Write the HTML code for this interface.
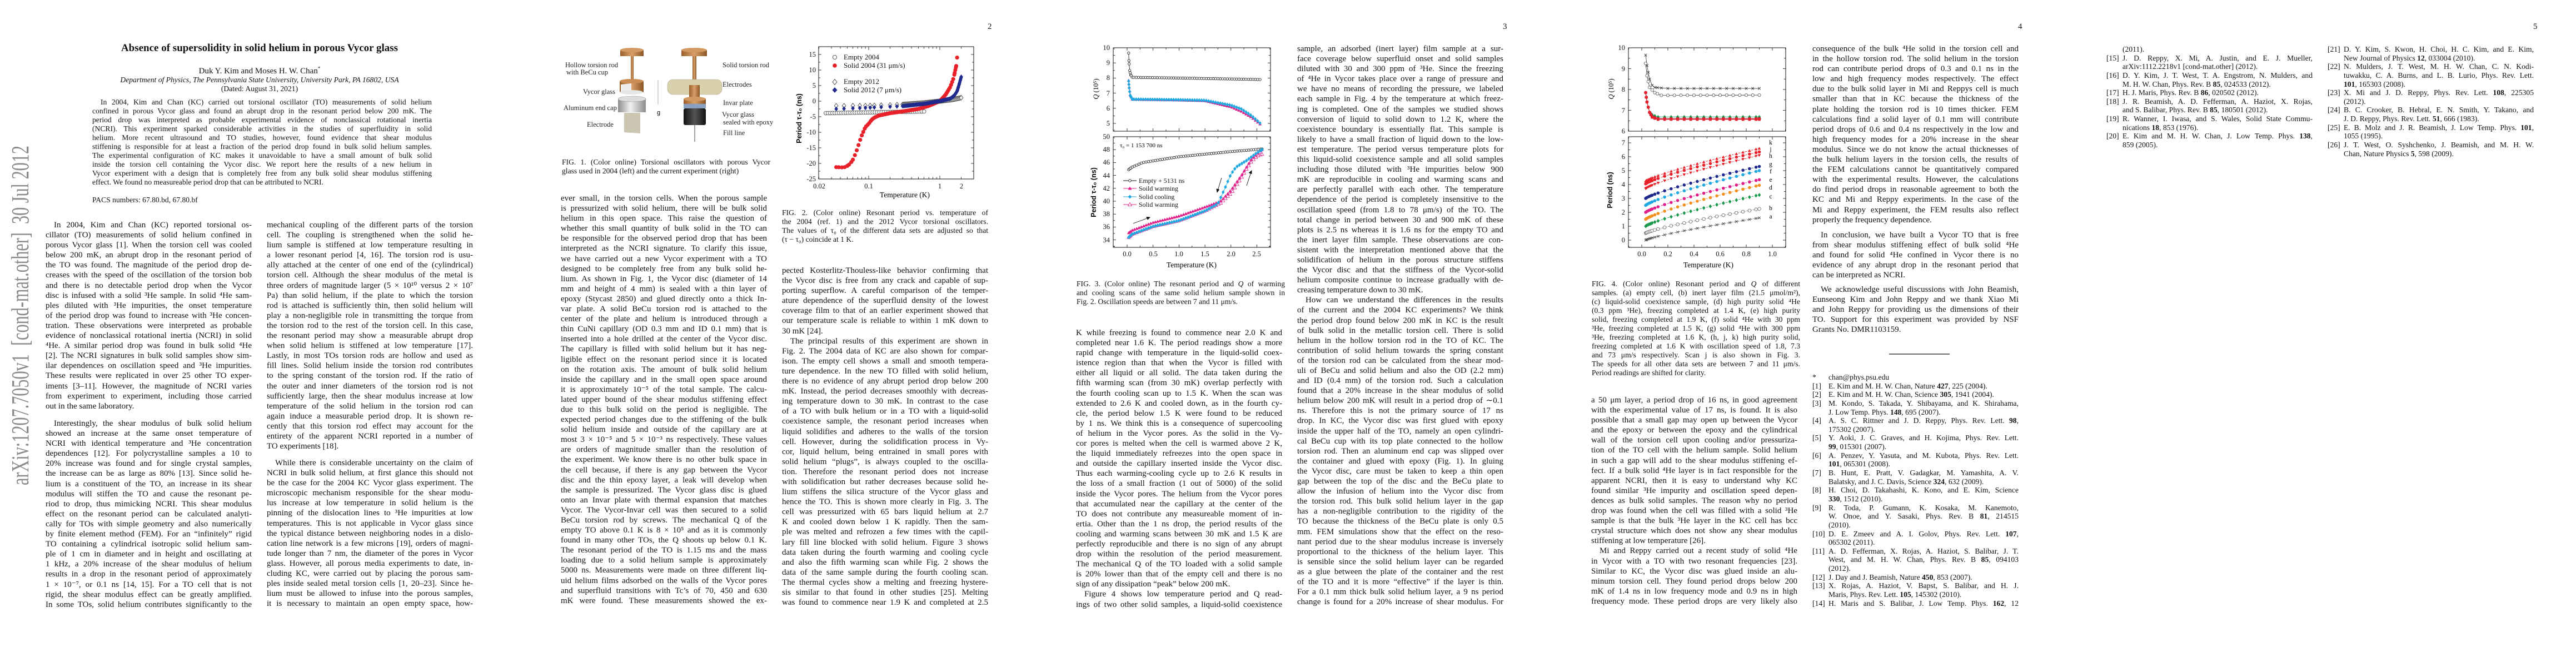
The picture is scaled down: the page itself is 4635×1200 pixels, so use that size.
<!DOCTYPE html>
<html><head><meta charset="utf-8">
<style>
html,body{margin:0;padding:0;background:#fff}
body{width:4635px;height:1200px;position:relative;overflow:hidden;font-family:"Liberation Serif",serif;color:#111}
.pg{position:absolute;top:0;width:927px;height:1200px}
.col{position:absolute;width:371px;font-size:15px;line-height:18.1px}
.col>div{height:18.1px;text-align:justify;text-align-last:justify;overflow:hidden;white-space:normal}
.col>div.e{text-align-last:left}
.col>div.i{text-indent:15px}
.cap{font-size:13.6px;line-height:16px}
.cap>div{height:16px}
.ref{font-size:13.6px;line-height:15.65px}
.ref>div{height:15.65px;padding-left:29px;position:relative}
.ref>div.rf{padding-left:29px}
.n{position:absolute;left:0;width:25px;text-align:right;text-indent:0}
.pn{position:absolute;left:850px;top:40px;font-size:15px}
svg{position:absolute;left:0;top:0}
.tk{font-family:"Liberation Serif",serif;font-size:12.5px;fill:#111}
</style></head><body>

<!-- ================= PAGE 1 ================= -->
<div class="pg" style="left:0">
<svg width="927" height="1200">
<text transform="translate(51,873) rotate(-90)" font-family="Liberation Serif,serif" font-size="44" fill="#8a8a8a" textLength="611" lengthAdjust="spacingAndGlyphs" xml:space="preserve">arXiv:1207.7050v1  [cond-mat.other]  30 Jul 2012</text>
</svg>
<div style="position:absolute;left:82px;width:770px;top:76px;text-align:center;font-size:19px;font-weight:bold">Absence of supersolidity in solid helium in porous Vycor glass</div>
<div style="position:absolute;left:82px;width:770px;top:118px;text-align:center;font-size:15px">Duk Y. Kim and Moses H. W. Chan<sup style="font-size:9px">*</sup></div>
<div style="position:absolute;left:82px;width:770px;top:136px;text-align:center;font-size:13.6px;font-style:italic">Department of Physics, The Pennsylvania State University, University Park, PA 16802, USA</div>
<div style="position:absolute;left:82px;width:770px;top:152px;text-align:center;font-size:13.6px">(Dated: August 31, 2021)</div>
<div class="col cap" style="left:166px;width:611px;top:176px">
<div class="i">In 2004, Kim and Chan (KC) carried out torsional oscillator (TO) measurements of solid helium</div>
<div>confined in porous Vycor glass and found an abrupt drop in the resonant period below 200 mK. The</div>
<div>period drop was interpreted as probable experimental evidence of nonclassical rotational inertia</div>
<div>(NCRI). This experiment sparked considerable activities in the studies of superfluidity in solid</div>
<div>helium. More recent ultrasound and TO studies, however, found evidence that shear modulus</div>
<div>stiffening is responsible for at least a fraction of the period drop found in bulk solid helium samples.</div>
<div>The experimental configuration of KC makes it unavoidable to have a small amount of bulk solid</div>
<div>inside the torsion cell containing the Vycor disc. We report here the results of a new helium in</div>
<div>Vycor experiment with a design that is completely free from any bulk solid shear modulus stiffening</div>
<div class="e">effect. We found no measureable period drop that can be attributed to NCRI.</div>
</div>
<div style="position:absolute;left:166px;top:352px;font-size:13.6px">PACS numbers: 67.80.bd, 67.80.bf</div>

<div class="col" style="left:82px;top:396px">
<div class="i">In 2004, Kim and Chan (KC) reported torsional os-</div>
<div>cillator (TO) measurements of solid helium confined in</div>
<div>porous Vycor glass [1]. When the torsion cell was cooled</div>
<div>below 200 mK, an abrupt drop in the resonant period of</div>
<div>the TO was found. The magnitude of the period drop de-</div>
<div>creases with the speed of the oscillation of the torsion bob</div>
<div>and there is no detectable period drop when the Vycor</div>
<div>disc is infused with a solid ³He sample. In solid ⁴He sam-</div>
<div>ples diluted with ³He impurities, the onset temperature</div>
<div>of the period drop was found to increase with ³He concen-</div>
<div>tration. These observations were interpreted as probable</div>
<div>evidence of nonclassical rotational inertia (NCRI) in solid</div>
<div>⁴He. A similar period drop was found in bulk solid ⁴He</div>
<div>[2]. The NCRI signatures in bulk solid samples show sim-</div>
<div>ilar dependences on oscillation speed and ³He impurities.</div>
<div>These results were replicated in over 25 other TO exper-</div>
<div>iments [3–11]. However, the magnitude of NCRI varies</div>
<div>from experiment to experiment, including those carried</div>
<div class="e">out in the same laboratory.</div>
</div>
<div class="col" style="left:82px;top:753px">
<div class="i">Interestingly, the shear modulus of bulk solid helium</div>
<div>showed an increase at the same onset temperature of</div>
<div>NCRI with identical temperature and ³He concentration</div>
<div>dependences [12]. For polycrystalline samples a 10 to</div>
<div>20% increase was found and for single crystal samples,</div>
<div>the increase can be as large as 80% [13]. Since solid he-</div>
<div>lium is a constituent of the TO, an increase in its shear</div>
<div>modulus will stiffen the TO and cause the resonant pe-</div>
<div>riod to drop, thus mimicking NCRI. This shear modulus</div>
<div>effect on the resonant period can be calculated analyti-</div>
<div>cally for TOs with simple geometry and also numerically</div>
<div>by finite element method (FEM). For an “infinitely” rigid</div>
<div>TO containing a cylindrical isotropic solid helium sam-</div>
<div>ple of 1 cm in diameter and in height and oscillating at</div>
<div>1 kHz, a 20% increase of the shear modulus of helium</div>
<div>results in a drop in the resonant period of approximately</div>
<div>1 × 10⁻⁷, or 0.1 ns [14, 15]. For a TO cell that is not</div>
<div>rigid, the shear modulus effect can be greatly amplified.</div>
<div>In some TOs, solid helium contributes significantly to the</div>
</div>
<div class="col" style="left:480px;top:396px">
<div>mechanical coupling of the different parts of the torsion</div>
<div>cell. The coupling is strengthened when the solid he-</div>
<div>lium sample is stiffened at low temperature resulting in</div>
<div>a lower resonant period [4, 16]. The torsion rod is usu-</div>
<div>ally attached at the center of one end of the (cylindrical)</div>
<div>torsion cell. Although the shear modulus of the metal is</div>
<div>three orders of magnitude larger (5 × 10¹⁰ versus 2 × 10⁷</div>
<div>Pa) than solid helium, if the plate to which the torsion</div>
<div>rod is attached is sufficiently thin, then solid helium will</div>
<div>play a non-negligible role in transmitting the torque from</div>
<div>the torsion rod to the rest of the torsion cell. In this case,</div>
<div>the resonant period may show a measurable abrupt drop</div>
<div>when solid helium is stiffened at low temperature [17].</div>
<div>Lastly, in most TOs torsion rods are hollow and used as</div>
<div>fill lines. Solid helium inside the torsion rod contributes</div>
<div>to the spring constant of the torsion rod. If the ratio of</div>
<div>the outer and inner diameters of the torsion rod is not</div>
<div>sufficiently large, then the shear modulus increase at low</div>
<div>temperature of the solid helium in the torsion rod can</div>
<div>again induce a measurable period drop. It is shown re-</div>
<div>cently that this torsion rod effect may account for the</div>
<div>entirety of the apparent NCRI reported in a number of</div>
<div class="e">TO experiments [18].</div>
</div>
<div class="col" style="left:480px;top:824px">
<div class="i">While there is considerable uncertainty on the claim of</div>
<div>NCRI in bulk solid helium, at first glance this should not</div>
<div>be the case for the 2004 KC Vycor glass experiment. The</div>
<div>microscopic mechanism responsible for the shear modu-</div>
<div>lus increase at low temperature in solid helium is the</div>
<div>pinning of the dislocation lines to ³He impurities at low</div>
<div>temperatures. This is not applicable in Vycor glass since</div>
<div>the typical distance between neighboring nodes in a dislo-</div>
<div>cation line network is a few microns [19], orders of magni-</div>
<div>tude longer than 7 nm, the diameter of the pores in Vycor</div>
<div>glass. However, all porous media experiments to date, in-</div>
<div>cluding KC, were carried out by placing the porous sam-</div>
<div>ples inside sealed metal torsion cells [1, 20–23]. Since he-</div>
<div>lium must be allowed to infuse into the porous samples,</div>
<div>it is necessary to maintain an open empty space, how-</div>
</div>
</div>

<!-- ================= PAGE 2 ================= -->
<div class="pg" style="left:927px">
<div class="pn">2</div>
<svg width="927" height="1200" id="p2svg">
<defs>
<linearGradient id="cu" x1="0" x2="1"><stop offset="0" stop-color="#9a5f2c"/><stop offset=".5" stop-color="#d9a06a"/><stop offset="1" stop-color="#8a5526"/></linearGradient>
<linearGradient id="al" x1="0" x2="1"><stop offset="0" stop-color="#8d8d8d"/><stop offset=".45" stop-color="#f2f2f2"/><stop offset="1" stop-color="#8a8a8a"/></linearGradient>
<linearGradient id="dk" x1="0" x2="1"><stop offset="0" stop-color="#111"/><stop offset=".5" stop-color="#555"/><stop offset="1" stop-color="#111"/></linearGradient>
</defs>
<!-- left apparatus -->
<rect x="208" y="100" width="5" height="48" fill="url(#cu)"/>
<rect x="189" y="90" width="42" height="11" fill="url(#cu)"/>
<ellipse cx="210" cy="90" rx="21" ry="4" fill="#d29a62"/>
<rect x="188" y="146" width="43" height="20" fill="url(#cu)"/>
<ellipse cx="209.5" cy="146" rx="21.5" ry="4" fill="#c98d55"/>
<path d="M190 152 L209 150 L209 166 L190 164 Z" fill="#eee"/>
<ellipse cx="209" cy="166" rx="21" ry="4" fill="#e6e6e6"/>
<rect x="185" y="178" width="50" height="24" fill="url(#al)"/>
<ellipse cx="210" cy="178" rx="25" ry="5" fill="#ddd" stroke="#999" stroke-width=".6"/>
<polygon points="196,203 225,203 225,240 196,238" fill="#cbc6b2"/>
<line x1="257" y1="144" x2="257" y2="188" stroke="#888" stroke-width=".7"/>
<text x="255" y="206" font-size="11" font-family="Liberation Sans,sans-serif">g</text>
<!-- right apparatus -->
<rect x="319" y="100" width="7" height="45" fill="url(#cu)"/>
<rect x="299" y="90" width="46" height="11" fill="url(#cu)"/>
<ellipse cx="322" cy="90" rx="23" ry="4" fill="#d29a62"/>
<rect x="274" y="143" width="98" height="27" rx="10" fill="#d8d1ac" stroke="#a9a288" stroke-width=".6"/>
<rect x="313" y="153" width="19" height="25" fill="url(#cu)"/>
<rect x="303" y="178" width="40" height="9" fill="url(#cu)"/>
<ellipse cx="323" cy="178" rx="20" ry="4" fill="#d29a62"/>
<rect x="303" y="187" width="40" height="8" fill="#8aa0c0"/>
<rect x="303" y="195" width="40" height="30" rx="3" fill="url(#dk)"/>
<line x1="323" y1="225" x2="323" y2="255" stroke="#444" stroke-width="1"/>
<g font-family="Liberation Serif,serif" font-size="12.5" fill="#222">
<text x="90" y="121">Hollow torsion rod</text>
<text x="92" y="134">with BeCu cup</text>
<text x="122" y="169">Vycor glass</text>
<text x="87" y="198">Aluminum end cap</text>
<text x="129" y="228">Electrode</text>
<text x="373" y="121">Solid torsion rod</text>
<text x="373" y="156">Electrodes</text>
<text x="374" y="189">Invar plate</text>
<text x="372" y="210">Vycor glass</text>
<text x="374" y="224">sealed with epoxy</text>
<text x="374" y="243">Fill line</text>
</g>
<!-- Fig 2 -->
<rect x="546" y="84" width="279" height="238" fill="none" stroke="#111" stroke-width="1"/>
<g id="f2ticks" stroke="#111" stroke-width="0.8"></g>
<g class="tk" text-anchor="end">
<text x="541" y="102">15</text><text x="541" y="130">10</text><text x="541" y="158">5</text><text x="541" y="186">0</text>
<text x="541" y="214">-5</text><text x="541" y="242">-10</text><text x="541" y="270">-15</text><text x="541" y="298">-20</text><text x="541" y="326">-25</text>
</g>
<g class="tk" text-anchor="middle">
<text x="547" y="339">0.02</text><text x="636" y="339">0.1</text><text x="764" y="339">1</text><text x="803" y="339">2</text>
</g>
<text x="701" y="355" text-anchor="middle" font-size="13.5" font-family="Liberation Serif,serif">Temperature (K)</text>
<text transform="translate(515,213) rotate(-90)" text-anchor="middle" font-size="12.5" font-weight="bold" font-family="Liberation Sans,sans-serif">Period τ-τ₀ (ns)</text>
<g id="f2data"></g>
<g font-family="Liberation Serif,serif" font-size="13" fill="#111">
<circle cx="575" cy="103" r="3.6" fill="#fff" stroke="#333" stroke-width=".8"/><text x="591" y="107">Empty 2004</text>
<circle cx="575" cy="118" r="3.8" fill="#e8202a"/><text x="591" y="122">Solid 2004 (31 μm/s)</text>
<path d="M575 142.5 L579 147.5 L575 152.5 L571 147.5Z" fill="#fff" stroke="#333" stroke-width=".8"/><text x="591" y="151">Empty 2012</text>
<path d="M575 157 L579.5 162 L575 167 L570.5 162Z" fill="#1f2a8c"/><text x="591" y="166">Solid 2012 (7 μm/s)</text>
</g>
</svg>
<div class="col cap" style="left:84px;width:375px;top:284px">
<div>FIG. 1. (Color online) Torsional oscillators with porous Vycor</div>
<div class="e">glass used in 2004 (left) and the current experiment (right)</div>
</div>
<div class="col cap" style="left:480px;top:375px">
<div>FIG. 2. (Color online) Resonant period vs. temperature of</div>
<div>the 2004 (ref. 1) and the 2012 Vycor torsional oscillators.</div>
<div>The values of τ₀ of the different data sets are adjusted so that</div>
<div class="e">(τ − τ₀) coincide at 1 K.</div>
</div>
<div class="col" style="left:82px;top:348px">
<div>ever small, in the torsion cells. When the porous sample</div>
<div>is pressurized with solid helium, there will be bulk solid</div>
<div>helium in this open space. This raise the question of</div>
<div>whether this small quantity of bulk solid in the TO can</div>
<div>be responsible for the observed period drop that has been</div>
<div>interpreted as the NCRI signature. To clarify this issue,</div>
<div>we have carried out a new Vycor experiment with a TO</div>
<div>designed to be completely free from any bulk solid he-</div>
<div>lium. As shown in Fig. 1, the Vycor disc (diameter of 14</div>
<div>mm and height of 4 mm) is sealed with a thin layer of</div>
<div>epoxy (Stycast 2850) and glued directly onto a thick In-</div>
<div>var plate. A solid BeCu torsion rod is attached to the</div>
<div>center of the plate and helium is introduced through a</div>
<div>thin CuNi capillary (OD 0.3 mm and ID 0.1 mm) that is</div>
<div>inserted into a hole drilled at the center of the Vycor disc.</div>
<div>The capillary is filled with solid helium but it has neg-</div>
<div>ligible effect on the resonant period since it is located</div>
<div>on the rotation axis. The amount of bulk solid helium</div>
<div>inside the capillary and in the small open space around</div>
<div>it is approximately 10⁻⁵ of the total sample. The calcu-</div>
<div>lated upper bound of the shear modulus stiffening effect</div>
<div>due to this bulk solid on the period is negligible. The</div>
<div>expected period changes due to the stiffening of the bulk</div>
<div>solid helium inside and outside of the capillary are at</div>
<div>most 3 × 10⁻⁵ and 5 × 10⁻³ ns respectively. These values</div>
<div>are orders of magnitude smaller than the resolution of</div>
<div>the experiment. We know there is no other bulk space in</div>
<div>the cell because, if there is any gap between the Vycor</div>
<div>disc and the thin epoxy layer, a leak will develop when</div>
<div>the sample is pressurized. The Vycor glass disc is glued</div>
<div>onto an Invar plate with thermal expansion that matches</div>
<div>Vycor. The Vycor-Invar cell was then secured to a solid</div>
<div>BeCu torsion rod by screws. The mechanical Q of the</div>
<div>empty TO above 0.1 K is 8 × 10⁵ and as it is commonly</div>
<div>found in many other TOs, the Q shoots up below 0.1 K.</div>
<div>The resonant period of the TO is 1.15 ms and the mass</div>
<div>loading due to a solid helium sample is approximately</div>
<div>5000 ns. Measurements were made on three different liq-</div>
<div>uid helium films adsorbed on the walls of the Vycor pores</div>
<div>and superfluid transitions with Tc’s of 70, 450 and 630</div>
<div>mK were found. These measurements showed the ex-</div>
</div>
<div class="col" style="left:480px;top:478px">
<div>pected Kosterlitz-Thouless-like behavior confirming that</div>
<div>the Vycor disc is free from any crack and capable of sup-</div>
<div>porting superflow. A careful comparison of the temper-</div>
<div>ature dependence of the superfluid density of the lowest</div>
<div>coverage film to that of an earlier experiment showed that</div>
<div>our temperature scale is reliable to within 1 mK down to</div>
<div class="e">30 mK [24].</div>
<div class="i">The principal results of this experiment are shown in</div>
<div>Fig. 2. The 2004 data of KC are also shown for compar-</div>
<div>ison. The empty cell shows a small and smooth tempera-</div>
<div>ture dependence. In the new TO filled with solid helium,</div>
<div>there is no evidence of any abrupt period drop below 200</div>
<div>mK. Instead, the period decreases smoothly with decreas-</div>
<div>ing temperature down to 30 mK. In contrast to the case</div>
<div>of a TO with bulk helium or in a TO with a liquid-solid</div>
<div>coexistence sample, the resonant period increases when</div>
<div>liquid solidifies and adheres to the walls of the torsion</div>
<div>cell. However, during the solidification process in Vy-</div>
<div>cor, liquid helium, being entrained in small pores with</div>
<div>solid helium “plugs”, is always coupled to the oscilla-</div>
<div>tion. Therefore the resonant period does not increase</div>
<div>with solidification but rather decreases because solid he-</div>
<div>lium stiffens the silica structure of the Vycor glass and</div>
<div>hence the TO. This is shown more clearly in Fig. 3. The</div>
<div>cell was pressurized with 65 bars liquid helium at 2.7</div>
<div>K and cooled down below 1 K rapidly. Then the sam-</div>
<div>ple was melted and refrozen a few times with the capil-</div>
<div>lary fill line blocked with solid helium. Figure 3 shows</div>
<div>data taken during the fourth warming and cooling cycle</div>
<div>and also the fifth warming scan while Fig. 2 shows the</div>
<div>data of the same sample during the fourth cooling scan.</div>
<div>The thermal cycles show a melting and freezing hystere-</div>
<div>sis similar to that found in other studies [25]. Melting</div>
<div>was found to commence near 1.9 K and completed at 2.5</div>
</div>
</div>

<!-- ================= PAGE 3 ================= -->
<div class="pg" style="left:1854px">
<div class="pn">3</div>
<svg width="927" height="1200">
<rect x="149" y="86" width="283" height="150" fill="none" stroke="#111"/>
<rect x="149" y="246" width="283" height="199" fill="none" stroke="#111"/>
<g id="f3ticks" stroke="#111" stroke-width="0.8"></g>
<g class="tk" text-anchor="end">
<text x="143" y="90">10</text><text x="143" y="117">9</text><text x="143" y="144">8</text><text x="143" y="172">7</text><text x="143" y="199">6</text><text x="143" y="226">5</text>
<text x="143" y="250">50</text><text x="143" y="273">48</text><text x="143" y="296">46</text><text x="143" y="320">44</text><text x="143" y="343">42</text><text x="143" y="366">40</text><text x="143" y="389">38</text><text x="143" y="412">36</text><text x="143" y="436">34</text>
</g>
<g class="tk" text-anchor="middle">
<text x="174" y="461">0.0</text><text x="221" y="461">0.5</text><text x="267" y="461">1.0</text><text x="314" y="461">1.5</text><text x="361" y="461">2.0</text><text x="407" y="461">2.5</text>
</g>
<text x="290" y="481" text-anchor="middle" font-size="13.5" font-family="Liberation Serif,serif">Temperature (K)</text>
<text transform="translate(122,160) rotate(-90)" text-anchor="middle" font-size="12.5" font-family="Liberation Serif,serif"><tspan font-style="italic">Q</tspan> (10⁵)</text>
<text transform="translate(118,346) rotate(-90)" text-anchor="middle" font-size="12.5" font-weight="bold" font-family="Liberation Sans,sans-serif">Period τ-τ₀ (ns)</text>
<text x="161" y="265" font-size="11" font-family="Liberation Serif,serif">τ₀ = 1 153 700 ns</text>
<g id="f3data"></g>
<g font-family="Liberation Serif,serif" font-size="12" fill="#111">
<line x1="167" y1="325" x2="191" y2="325" stroke="#111"/><circle cx="179" cy="325" r="2.3" fill="#fff" stroke="#111" stroke-width=".8"/><text x="195" y="329">Empty + 5131 ns</text>
<line x1="167" y1="339" x2="191" y2="339" stroke="#e0208a"/><path d="M179 335.5 L182.5 341.5 L175.5 341.5Z" fill="#e0208a"/><text x="195" y="343">Soild warming</text>
<line x1="167" y1="354" x2="191" y2="354" stroke="#21a8e0"/><path d="M179 350.5 L182.5 354 L179 357.5 L175.5 354Z" fill="#21a8e0"/><text x="195" y="358">Solid cooling</text>
<line x1="167" y1="368" x2="191" y2="368" stroke="#e0208a"/><path d="M179 364.5 L182.5 370.5 L175.5 370.5Z" fill="#fff" stroke="#e0208a" stroke-width=".8"/><text x="195" y="372">Solid warming</text>
</g>
<g stroke="#111" stroke-width="0.9">
<line x1="185" y1="402" x2="215" y2="391"/><path d="M215 391 L209 390.5 L211 395Z" fill="#111"/>
<line x1="344" y1="320" x2="336" y2="346"/><path d="M336 346 L335 340 L339.5 341Z" fill="#111"/>
<line x1="389" y1="334" x2="398" y2="307"/><path d="M398 307 L393.5 311 L398 312.5Z" fill="#111"/>
</g>
</svg>
<div class="col cap" style="left:83px;width:375px;top:503px">
<div>FIG. 3. (Color online) The resonant period and <i>Q</i> of warming</div>
<div>and cooling scans of the same solid helium sample shown in</div>
<div class="e">Fig. 2. Oscillation speeds are between 7 and 11 μm/s.</div>
</div>
<div class="col" style="left:82px;top:590px">
<div>K while freezing is found to commence near 2.0 K and</div>
<div>completed near 1.6 K. The period readings show a more</div>
<div>rapid change with temperature in the liquid-solid coex-</div>
<div>istence region than that when the Vycor is filled with</div>
<div>either all liquid or all solid. The data taken during the</div>
<div>fifth warming scan (from 30 mK) overlap perfectly with</div>
<div>the fourth cooling scan up to 1.5 K. When the scan was</div>
<div>extended to 2.6 K and cooled down, as in the fourth cy-</div>
<div>cle, the period below 1.5 K were found to be reduced</div>
<div>by 1 ns. We think this is a consequence of supercooling</div>
<div>of helium in the Vycor pores. As the solid in the Vy-</div>
<div>cor pores is melted when the cell is warmed above 2 K,</div>
<div>the liquid immediately refreezes into the open space in</div>
<div>and outside the capillary inserted inside the Vycor disc.</div>
<div>Thus each warming-cooling cycle up to 2.6 K results in</div>
<div>the loss of a small fraction (1 out of 5000) of the solid</div>
<div>inside the Vycor pores. The helium from the Vycor pores</div>
<div>that accumulated near the capillary at the center of the</div>
<div>TO does not contribute any measureable moment of in-</div>
<div>ertia. Other than the 1 ns drop, the period results of the</div>
<div>cooling and warming scans between 30 mK and 1.5 K are</div>
<div>perfectly reproducible and there is no sign of any abrupt</div>
<div>drop within the resolution of the period measurement.</div>
<div>The mechanical Q of the TO loaded with a solid sample</div>
<div>is 20% lower than that of the empty cell and there is no</div>
<div class="e">sign of any dissipation “peak” below 200 mK.</div>
<div class="i">Figure 4 shows low temperature period and Q read-</div>
<div>ings of two other solid samples, a liquid-solid coexistence</div>
</div>
<div class="col" style="left:480px;top:79px">
<div>sample, an adsorbed (inert layer) film sample at a sur-</div>
<div>face coverage below superfluid onset and solid samples</div>
<div>diluted with 30 and 300 ppm of ³He. Since the freezing</div>
<div>of ⁴He in Vycor takes place over a range of pressure and</div>
<div>we have no means of recording the pressure, we labeled</div>
<div>each sample in Fig. 4 by the temperature at which freez-</div>
<div>ing is completed. One of the samples we studied shows</div>
<div>conversion of liquid to solid down to 1.2 K, where the</div>
<div>coexistence boundary is essentially flat. This sample is</div>
<div>likely to have a small fraction of liquid down to the low-</div>
<div>est temperature. The period versus temperature plots for</div>
<div>this liquid-solid coexistence sample and all solid samples</div>
<div>including those diluted with ³He impurities below 900</div>
<div>mK are reproducible in cooling and warming scans and</div>
<div>are perfectly parallel with each other. The temperature</div>
<div>dependence of the period is completely insensitive to the</div>
<div>oscillation speed (from 1.8 to 78 μm/s) of the TO. The</div>
<div>total change in period between 30 and 900 mK of these</div>
<div>plots is 2.5 ns whereas it is 1.6 ns for the empty TO and</div>
<div>the inert layer film sample. These observations are con-</div>
<div>sistent with the interpretation mentioned above that the</div>
<div>solidification of helium in the porous structure stiffens</div>
<div>the Vycor disc and that the stiffness of the Vycor-solid</div>
<div>helium composite continue to increase gradually with de-</div>
<div class="e">creasing temperature down to 30 mK.</div>
<div class="i">How can we understand the differences in the results</div>
<div>of the current and the 2004 KC experiments? We think</div>
<div>the period drop found below 200 mK in KC is the result</div>
<div>of bulk solid in the metallic torsion cell. There is solid</div>
<div>helium in the hollow torsion rod in the TO of KC. The</div>
<div>contribution of solid helium towards the spring constant</div>
<div>of the torsion rod can be calculated from the shear mod-</div>
<div>uli of BeCu and solid helium and also the OD (2.2 mm)</div>
<div>and ID (0.4 mm) of the torsion rod. Such a calculation</div>
<div>found that a 20% increase in the shear modulus of solid</div>
<div>helium below 200 mK will result in a period drop of ∼0.1</div>
<div>ns. Therefore this is not the primary source of 17 ns</div>
<div>drop. In KC, the Vycor disc was first glued with epoxy</div>
<div>inside the upper half of the TO, namely an open cylindri-</div>
<div>cal BeCu cup with its top plate connected to the hollow</div>
<div>torsion rod. Then an aluminum end cap was slipped over</div>
<div>the container and glued with epoxy (Fig. 1). In gluing</div>
<div>the Vycor disc, care must be taken to keep a thin open</div>
<div>gap between the top of the disc and the BeCu plate to</div>
<div>allow the infusion of helium into the Vycor disc from</div>
<div>the torsion rod. This bulk solid helium layer in the gap</div>
<div>has a non-negligible contribution to the rigidity of the</div>
<div>TO because the thickness of the BeCu plate is only 0.5</div>
<div>mm. FEM simulations show that the effect on the reso-</div>
<div>nant period due to the shear modulus increase is inversely</div>
<div>proportional to the thickness of the helium layer. This</div>
<div>is sensible since the solid helium layer can be regarded</div>
<div>as a glue between the plate of the container and the rest</div>
<div>of the TO and it is more “effective” if the layer is thin.</div>
<div>For a 0.1 mm thick bulk solid helium layer, a 9 ns period</div>
<div>change is found for a 20% increase of shear modulus. For</div>
</div>
</div>

<!-- ================= PAGE 4 ================= -->
<div class="pg" style="left:2781px">
<div class="pn">4</div>
<svg width="927" height="1200">
<rect x="149" y="86" width="283" height="150" fill="none" stroke="#111"/>
<rect x="149" y="246" width="283" height="199" fill="none" stroke="#111"/>
<g id="f4ticks" stroke="#111" stroke-width="0.8"></g>
<g class="tk" text-anchor="end">
<text x="143" y="90">10</text><text x="143" y="128">9</text><text x="143" y="165">8</text><text x="143" y="203">7</text><text x="143" y="240">6</text>
<text x="143" y="261">7</text><text x="143" y="286">6</text><text x="143" y="311">5</text><text x="143" y="336">4</text><text x="143" y="361">3</text><text x="143" y="386">2</text><text x="143" y="411">1</text><text x="143" y="436">0</text>
</g>
<g class="tk" text-anchor="middle">
<text x="173" y="461">0.0</text><text x="220" y="461">0.2</text><text x="267" y="461">0.4</text><text x="314" y="461">0.6</text><text x="361" y="461">0.8</text><text x="408" y="461">1.0</text>
</g>
<text x="293" y="481" text-anchor="middle" font-size="13.5" font-family="Liberation Serif,serif">Temperature (K)</text>
<text transform="translate(122,160) rotate(-90)" text-anchor="middle" font-size="12.5" font-family="Liberation Serif,serif"><tspan font-style="italic">Q</tspan> (10⁵)</text>
<text transform="translate(120,342) rotate(-90)" text-anchor="middle" font-size="12.5" font-weight="bold" font-family="Liberation Sans,sans-serif">Period (ns)</text>
<g font-family="Liberation Serif,serif" font-size="11.5" text-anchor="middle">
<text x="405" y="260">k</text><text x="405" y="272">j</text><text x="405" y="284">h</text><text x="405" y="299">g</text><text x="405" y="312">f</text><text x="405" y="327">e</text><text x="405" y="341">d</text><text x="405" y="357">c</text><text x="405" y="378">b</text><text x="405" y="393">a</text>
</g>
<g id="f4data"></g>
<line x1="618" y1="637" x2="727" y2="637" stroke="#111" stroke-width="1.2"/>
</svg>
<div class="col cap" style="left:83px;width:375px;top:503px">
<div>FIG. 4. (Color online) Resonant period and <i>Q</i> of different</div>
<div>samples. (a) empty cell, (b) inert layer film (21.5 μmol/m²),</div>
<div>(c) liquid-solid coexistence sample, (d) high purity solid ⁴He</div>
<div>(0.3 ppm ³He), freezing completed at 1.4 K, (e) high purity</div>
<div>solid, freezing completed at 1.9 K, (f) solid ⁴He with 30 ppm</div>
<div>³He, freezing completed at 1.5 K, (g) solid ⁴He with 300 ppm</div>
<div>³He, freezing completed at 1.6 K, (h, j, k) high purity solid,</div>
<div>freezing completed at 1.6 K with oscillation speed of 1.8, 7.3</div>
<div>and 73 μm/s respectively. Scan j is also shown in Fig. 3.</div>
<div>The speeds for all other data sets are between 7 and 11 μm/s.</div>
<div class="e">Period readings are shifted for clarity.</div>
</div>
<div class="col" style="left:82px;top:711px">
<div>a 50 μm layer, a period drop of 16 ns, in good agreement</div>
<div>with the experimental value of 17 ns, is found. It is also</div>
<div>possible that a small gap may open up between the Vycor</div>
<div>and the epoxy or between the epoxy and the cylindrical</div>
<div>wall of the torsion cell upon cooling and/or pressuriza-</div>
<div>tion of the TO cell with the helium sample. Solid helium</div>
<div>in such a gap will add to the shear modulus stiffening ef-</div>
<div>fect. If a bulk solid ⁴He layer is in fact responsible for the</div>
<div>apparent NCRI, then it is easy to understand why KC</div>
<div>found similar ³He impurity and oscillation speed depen-</div>
<div>dences as bulk solid samples. The reason why no period</div>
<div>drop was found when the cell was filled with a solid ³He</div>
<div>sample is that the bulk ³He layer in the KC cell has bcc</div>
<div>crystal structure which does not show any shear modulus</div>
<div class="e">stiffening at low temperature [26].</div>
<div class="i">Mi and Reppy carried out a recent study of solid ⁴He</div>
<div>in Vycor with a TO with two resonant frequencies [23].</div>
<div>Similar to KC, the Vycor disc was glued inside an alu-</div>
<div>minum torsion cell. They found period drops below 200</div>
<div>mK of 1.4 ns in low frequency mode and 0.9 ns in high</div>
<div>frequency mode. These period drops are very likely also</div>
</div>
<div class="col" style="left:480px;top:79px">
<div>consequence of the bulk ⁴He solid in the torsion cell and</div>
<div>in the hollow torsion rod. The solid helium in the torsion</div>
<div>rod can contribute period drops of 0.3 and 0.1 ns in the</div>
<div>low and high frequency modes respectively. The effect</div>
<div>due to the bulk solid layer in Mi and Reppys cell is much</div>
<div>smaller than that in KC because the thickness of the</div>
<div>plate holding the torsion rod is 10 times thicker. FEM</div>
<div>calculations find a solid layer of 0.1 mm will contribute</div>
<div>period drops of 0.6 and 0.4 ns respectively in the low and</div>
<div>high frequency modes for a 20% increase in the shear</div>
<div>modulus. Since we do not know the actual thicknesses of</div>
<div>the bulk helium layers in the torsion cells, the results of</div>
<div>the FEM calculations cannot be quantitatively compared</div>
<div>with the experimental results. However, the calculations</div>
<div>do find period drops in reasonable agreement to both the</div>
<div>KC and Mi and Reppy experiments. In the case of the</div>
<div>Mi and Reppy experiment, the FEM results also reflect</div>
<div class="e">properly the frequency dependence.</div>
</div>
<div class="col" style="left:480px;top:414px">
<div class="i">In conclusion, we have built a Vycor TO that is free</div>
<div>from shear modulus stiffening effect of bulk solid ⁴He</div>
<div>and found for solid ⁴He confined in Vycor there is no</div>
<div>evidence of any abrupt drop in the resonant period that</div>
<div class="e">can be interpreted as NCRI.</div>
</div>
<div class="col" style="left:480px;top:512px">
<div class="i">We acknowledge useful discussions with John Beamish,</div>
<div>Eunseong Kim and John Reppy and we thank Xiao Mi</div>
<div>and John Reppy for providing us the dimensions of their</div>
<div>TO. Support for this experiment was provided by NSF</div>
<div class="e">Grants No. DMR1103159.</div>
</div>
<div class="col ref" style="left:480px;top:671px">
<div class="e"><span class="n" style="width:29px;text-align:right">*&#160;</span>chan@phys.psu.edu</div>
<div class="e"><span class="n">[1]</span>E. Kim and M. H. W. Chan, Nature <b>427</b>, 225 (2004).</div>
<div class="e"><span class="n">[2]</span>E. Kim and M. H. W. Chan, Science <b>305</b>, 1941 (2004).</div>
<div><span class="n">[3]</span>M. Kondo, S. Takada, Y. Shibayama, and K. Shirahama,</div>
<div class="e">J. Low Temp. Phys. <b>148</b>, 695 (2007).</div>
<div><span class="n">[4]</span>A. S. C. Rittner and J. D. Reppy, Phys. Rev. Lett. <b>98</b>,</div>
<div class="e">175302 (2007).</div>
<div><span class="n">[5]</span>Y. Aoki, J. C. Graves, and H. Kojima, Phys. Rev. Lett.</div>
<div class="e"><b>99</b>, 015301 (2007).</div>
<div><span class="n">[6]</span>A. Penzev, Y. Yasuta, and M. Kubota, Phys. Rev. Lett.</div>
<div class="e"><b>101</b>, 065301 (2008).</div>
<div><span class="n">[7]</span>B. Hunt, E. Pratt, V. Gadagkar, M. Yamashita, A. V.</div>
<div class="e">Balatsky, and J. C. Davis, Science <b>324</b>, 632 (2009).</div>
<div><span class="n">[8]</span>H. Choi, D. Takahashi, K. Kono, and E. Kim, Science</div>
<div class="e"><b>330</b>, 1512 (2010).</div>
<div><span class="n">[9]</span>R. Toda, P. Gumann, K. Kosaka, M. Kanemoto,</div>
<div>W. Onoe, and Y. Sasaki, Phys. Rev. B <b>81</b>, 214515</div>
<div class="e">(2010).</div>
<div><span class="n">[10]</span>D. E. Zmeev and A. I. Golov, Phys. Rev. Lett. <b>107</b>,</div>
<div class="e">065302 (2011).</div>
<div><span class="n">[11]</span>A. D. Fefferman, X. Rojas, A. Haziot, S. Balibar, J. T.</div>
<div>West, and M. H. W. Chan, Phys. Rev. B <b>85</b>, 094103</div>
<div class="e">(2012).</div>
<div class="e"><span class="n">[12]</span>J. Day and J. Beamish, Nature <b>450</b>, 853 (2007).</div>
<div><span class="n">[13]</span>X. Rojas, A. Haziot, V. Bapst, S. Balibar, and H. J.</div>
<div class="e">Maris, Phys. Rev. Lett. <b>105</b>, 145302 (2010).</div>
<div><span class="n">[14]</span>H. Maris and S. Balibar, J. Low Temp. Phys. <b>162</b>, 12</div>
</div>
</div>

<!-- ================= PAGE 5 ================= -->
<div class="pg" style="left:3708px">
<div class="pn">5</div>
<div class="col ref" style="left:82px;top:81px;line-height:15.9px">
<div class="e">(2011).</div>
<div><span class="n">[15]</span>J. D. Reppy, X. Mi, A. Justin, and E. J. Mueller,</div>
<div class="e">arXiv:1112.2218v1 [cond-mat.other] (2012).</div>
<div><span class="n">[16]</span>D. Y. Kim, J. T. West, T. A. Engstrom, N. Mulders, and</div>
<div class="e">M. H. W. Chan, Phys. Rev. B <b>85</b>, 024533 (2012).</div>
<div class="e"><span class="n">[17]</span>H. J. Maris, Phys. Rev. B <b>86</b>, 020502 (2012).</div>
<div><span class="n">[18]</span>J. R. Beamish, A. D. Fefferman, A. Haziot, X. Rojas,</div>
<div class="e">and S. Balibar, Phys. Rev. B <b>85</b>, 180501 (2012).</div>
<div><span class="n">[19]</span>R. Wanner, I. Iwasa, and S. Wales, Solid State Commu-</div>
<div class="e">nications <b>18</b>, 853 (1976).</div>
<div><span class="n">[20]</span>E. Kim and M. H. W. Chan, J. Low Temp. Phys. <b>138</b>,</div>
<div class="e">859 (2005).</div>
</div>
<div class="col ref" style="left:480px;top:81px;line-height:15.9px">
<div><span class="n">[21]</span>D. Y. Kim, S. Kwon, H. Choi, H. C. Kim, and E. Kim,</div>
<div class="e">New Journal of Physics <b>12</b>, 033004 (2010).</div>
<div><span class="n">[22]</span>N. Mulders, J. T. West, M. H. W. Chan, C. N. Kodi-</div>
<div>tuwakku, C. A. Burns, and L. B. Lurio, Phys. Rev. Lett.</div>
<div class="e"><b>101</b>, 165303 (2008).</div>
<div><span class="n">[23]</span>X. Mi and J. D. Reppy, Phys. Rev. Lett. <b>108</b>, 225305</div>
<div class="e">(2012).</div>
<div><span class="n">[24]</span>B. C. Crooker, B. Hebral, E. N. Smith, Y. Takano, and</div>
<div class="e">J. D. Reppy, Phys. Rev. Lett. <b>51</b>, 666 (1983).</div>
<div><span class="n">[25]</span>E. B. Molz and J. R. Beamish, J. Low Temp. Phys. <b>101</b>,</div>
<div class="e">1055 (1995).</div>
<div><span class="n">[26]</span>J. T. West, O. Syshchenko, J. Beamish, and M. H. W.</div>
<div class="e">Chan, Nature Physics <b>5</b>, 598 (2009).</div>
</div>
</div>

<script>
(function(){
const NS='http://www.w3.org/2000/svg';
function el(g,tag,a){const e=document.createElementNS(NS,tag);for(const k in a)e.setAttribute(k,a[k]);g.appendChild(e);return e;}
function interp(P,t){if(t<=P[0][0])return P[0][1];for(let i=1;i<P.length;i++){if(t<=P[i][0]){const a=P[i-1],b=P[i];return a[1]+(b[1]-a[1])*(t-a[0])/(b[0]-a[0]);}}return P[P.length-1][1];}
function mk(g,type,x,y,r,c){
 switch(type){
 case 'oc':el(g,'circle',{cx:x,cy:y,r:r,fill:'#fff','fill-opacity':0.9,stroke:c,'stroke-width':0.8});break;
 case 'fc':el(g,'circle',{cx:x,cy:y,r:r,fill:c});break;
 case 'od':el(g,'path',{d:`M${x} ${y-r*1.3}L${x+r} ${y}L${x} ${y+r*1.3}L${x-r} ${y}Z`,fill:'#fff',stroke:c,'stroke-width':0.8});break;
 case 'fd':el(g,'path',{d:`M${x} ${y-r*1.3}L${x+r} ${y}L${x} ${y+r*1.3}L${x-r} ${y}Z`,fill:c});break;
 case 'tu':el(g,'path',{d:`M${x} ${y-r}L${x+r} ${y+r*0.8}L${x-r} ${y+r*0.8}Z`,fill:c});break;
 case 'otu':el(g,'path',{d:`M${x} ${y-r}L${x+r} ${y+r*0.8}L${x-r} ${y+r*0.8}Z`,fill:'#fff',stroke:c,'stroke-width':0.8});break;
 case 'td':el(g,'path',{d:`M${x} ${y+r}L${x+r} ${y-r*0.8}L${x-r} ${y-r*0.8}Z`,fill:c});break;
 case 'x':el(g,'path',{d:`M${x-r} ${y-r}L${x+r} ${y+r}M${x-r} ${y+r}L${x+r} ${y-r}`,stroke:c,'stroke-width':0.9});break;
 }
}
function line(g,pts,c,w){el(g,'polyline',{points:pts.map(p=>p[0].toFixed(1)+','+p[1].toFixed(1)).join(' '),fill:'none',stroke:c,'stroke-width':w||0.8});}
function ticksY(g,x0,x1,ys,len){ys.forEach(y=>{el(g,'line',{x1:x0,y1:y,x2:x0+len,y2:y});el(g,'line',{x1:x1,y1:y,x2:x1-len,y2:y});});}
function ticksX(g,y0,y1,xs,len){xs.forEach(x=>{el(g,'line',{x1:x,y1:y1,x2:x,y2:y1-len});el(g,'line',{x1:x,y1:y0,x2:x,y2:y0+len});});}

/* ---- Fig 2 ---- */
const X2=T=>636+128*Math.log10(T/0.1), Y2=v=>322-(v+25)*5.6;
let g=document.getElementById('f2ticks');
let ys=[],ysm=[];for(let v=-25;v<=15;v+=5)ys.push(Y2(v));for(let v=-22.5;v<=15;v+=5)ysm.push(Y2(v));
ticksY(g,546,825,ys,5);ticksY(g,546,825,ysm,3);
let xs=[X2(0.1),X2(1)],xsm=[];[0.02,0.03,0.04,0.05,0.06,0.07,0.08,0.09,0.2,0.3,0.4,0.5,0.6,0.7,0.8,0.9,2,3].forEach(t=>{const x=X2(t);if(x<825)xsm.push(x)});
ticksX(g,84,322,xs,6);ticksX(g,84,322,xsm,3.5);
g=document.getElementById('f2data');
const L=Math.log10;
// Empty 2004
let e04=[];for(let i=0;i<45;i++){const t=Math.pow(10,L(0.025)+i*(L(0.6)-L(0.025))/44);e04.push([t,-3.85+0.55*(L(t/0.025)/L(24))]);}
line(g,[[X2(0.3),Y2(-3.4)],[X2(0.6),Y2(-3.1)]],'#111',1.2);
e04.forEach(p=>mk(g,'oc',X2(p[0]),Y2(p[1]),3.4,'#444'));
// Empty 2012 and black tail
const E12=[[L(0.035),-1.5],[L(0.1),-1.4],[L(0.3),-1.05],[L(0.6),-0.55],[L(1),0],[L(1.5),0.5],[L(2),1.1]];
const S12=[[L(0.035),-2.5],[L(0.1),-2.1],[L(0.3),-1.6],[L(0.6),-0.85],[L(1),0],[L(1.4),0.8],[L(1.6),1.8],[L(1.75),3.2],[L(1.85),5],[L(2),7.8]];
let tl=[0.035,0.045,0.06,0.075,0.09,0.105,0.12,0.15,0.2,0.25,0.3];
for(let i=1;i<=60;i++){tl.push(Math.pow(10,L(0.3)+i*(L(2)-L(0.3))/60));}
let tl2=tl.slice();for(let i=1;i<=25;i++)tl2.push(Math.pow(10,L(1.5)+i*(L(2)-L(1.5))/25));
tl.forEach(t=>mk(g,'od',X2(t),Y2(interp(E12,L(t))),3.3,'#333'));
const S04=[[L(0.035),-21.2],[L(0.045),-21.3],[L(0.05),-20.8],[L(0.055),-20.1],[L(0.06),-18.8],[L(0.065),-17],[L(0.07),-15],[L(0.075),-12.8],[L(0.08),-11],[L(0.085),-9.6],[L(0.09),-8.3],[L(0.1),-7.3],[L(0.11),-6],[L(0.12),-5.3],[L(0.14),-4.6],[L(0.2),-3.85],[L(0.3),-3.3],[L(0.5),-2.5],[L(0.7),-1.5],[L(1),0],[L(1.2),2],[L(1.4),4.5],[L(1.55),7.2],[L(1.6),8.5],[L(1.65),10],[L(1.7),11.3],[L(1.75),14]];
let ts=[0.035,0.038,0.042,0.046,0.05,0.053,0.057,0.06,0.064,0.068,0.072,0.076,0.08,0.084,0.088,0.092,0.097,0.102,0.107,0.112,0.117,0.122,0.128,0.135];
for(let i=1;i<=70;i++)ts.push(Math.pow(10,L(0.135)+i*(L(1.6)-L(0.135))/70));
[1.62,1.65,1.68,1.7,1.75].forEach(t=>ts.push(t));
ts.forEach(t=>mk(g,'fc',X2(t),Y2(interp(S04,L(t))),3.6,'#e8202a'));
tl2.forEach(t=>mk(g,'fd',X2(t),Y2(interp(S12,L(t))),3.3,'#1f2a8c'));

/* ---- Fig 3 ---- */
const X3=T=>174+93.4*T, YQ3=q=>86+(10-q)*27.2, YP3=p=>246+(50-p)*11.6;
g=document.getElementById('f3ticks');
ys=[];for(let q=5;q<=10;q++)ys.push(YQ3(q));ticksY(g,149,432,ys,5);
ys=[];for(let q=5.5;q<=10;q+=1)ys.push(YQ3(q));ticksY(g,149,432,ys,3);
ys=[];for(let p=34;p<=50;p+=2)ys.push(YP3(p));ticksY(g,149,432,ys,5);
ys=[];for(let p=33;p<=50;p+=2)ys.push(YP3(p));ticksY(g,149,432,ys,3);
xs=[];for(let t=0;t<=2.5;t+=0.5)xs.push(X3(t));ticksX(g,86,236,xs,5);ticksX(g,246,445,xs,5);
xs=[];for(let t=-0.25;t<=2.8;t+=0.5)if(X3(t)>149&&X3(t)<432)xs.push(X3(t));ticksX(g,86,236,xs,3);ticksX(g,246,445,xs,3);
g=document.getElementById('f3data');
function series(tarr,P,X,Y){return tarr.map(t=>[X(t),Y(interp(P,t))]);}
let tq=[0.03,0.035,0.04,0.05,0.06,0.07,0.08,0.1];for(let t=0.13;t<=2.6;t+=0.045)tq.push(t);
let eQ=series(tq,[[0.03,9.65],[0.035,9.15],[0.05,8.5],[0.07,8.2],[0.1,8.05],[1,8.0],[2.6,7.9]],X3,YQ3);
line(g,eQ,'#111',0.8);eQ.forEach(p=>mk(g,'oc',p[0],p[1],2.2,'#111'));
let wQ=series(tq,[[0.03,7.85],[0.04,7.4],[0.06,6.9],[0.1,6.6],[1,6.55],[1.5,6.5],[2.0,6.1],[2.2,5.8],[2.4,5.4],[2.6,4.85]],X3,YQ3);
let cQ=series(tq,[[0.03,7.8],[0.04,7.35],[0.06,6.85],[0.1,6.6],[1,6.56],[1.5,6.52],[2.0,6.2],[2.2,5.95],[2.4,5.5],[2.6,4.9]],X3,YQ3);
line(g,wQ,'#e0208a');line(g,cQ,'#21a8e0');
wQ.forEach(p=>mk(g,'tu',p[0],p[1],3,'#e0208a'));cQ.forEach(p=>mk(g,'fd',p[0],p[1],2.8,'#21a8e0'));
let tp=[0.03,0.05,0.07,0.1];for(let t=0.14;t<=2.6;t+=0.045)tp.push(t);tp.push(2.6);
let eP=series(tp,[[0.03,44.9],[0.1,45.3],[0.3,46],[1,46.9],[1.5,47.3],[2,47.7],[2.6,48.1]],X3,YP3);
line(g,eP,'#111');eP.forEach(p=>mk(g,'oc',p[0],p[1],2.2,'#111'));
let wP=series(tp,[[0.03,35.1],[0.1,35.5],[0.5,36.7],[1,37.7],[1.5,39.1],[1.8,40],[2,41.7],[2.2,44],[2.4,46.6],[2.6,48]],X3,YP3);
let cP=series(tp,[[0.03,34.4],[0.1,34.9],[0.5,36.1],[1.0,37],[1.5,38.5],[1.75,39.6],[1.8,40.5],[1.9,42.3],[2.0,44.2],[2.1,45.3],[2.3,46.3],[2.5,47.5],[2.6,48]],X3,YP3);
let oP=series(tp,[[0.03,34.4],[0.1,34.9],[0.5,36.1],[1.0,37],[1.5,38.5],[1.8,39.7],[1.9,40.5],[2.0,41.2],[2.1,42.4],[2.2,43.6],[2.3,45],[2.4,46.2],[2.5,47],[2.6,47.3]],X3,YP3);
line(g,wP,'#e0208a');line(g,cP,'#21a8e0');line(g,oP,'#e0208a');
oP.forEach(p=>mk(g,'otu',p[0],p[1],3,'#e0208a'));wP.forEach(p=>mk(g,'tu',p[0],p[1],3,'#e0208a'));cP.forEach(p=>mk(g,'fd',p[0],p[1],2.8,'#21a8e0'));

/* ---- Fig 4 ---- */
const X4=T=>173+235*T, YQ4=q=>86+(10-q)*37.5, YP4=p=>257+(7-p)*25;
g=document.getElementById('f4ticks');
ys=[];for(let q=6;q<=10;q++)ys.push(YQ4(q));ticksY(g,149,432,ys,5);
ys=[];for(let q=6.5;q<=10;q+=1)ys.push(YQ4(q));ticksY(g,149,432,ys,3);
ys=[];for(let p=0;p<=7;p++)ys.push(YP4(p));ticksY(g,149,432,ys,5);
ys=[];for(let p=-0.5;p<=7.4;p+=1)ys.push(YP4(p));ticksY(g,149,432,ys,3);
xs=[];for(let t=0;t<=1.01;t+=0.2)xs.push(X4(t));ticksX(g,86,236,xs,5);ticksX(g,246,445,xs,5);
xs=[];for(let t=-0.1;t<=1.15;t+=0.2)if(X4(t)>149&&X4(t)<432)xs.push(X4(t));ticksX(g,86,236,xs,3);ticksX(g,246,445,xs,3);
g=document.getElementById('f4data');
let t4=[0.03,0.035,0.04,0.05,0.06,0.07,0.08,0.1];for(let t=0.125;t<=0.91;t+=0.05)t4.push(t);t4.push(0.9);
let ta=[0.03,0.04,0.05,0.06,0.08,0.1,0.12];for(let t=0.15;t<=0.91;t+=0.05)ta.push(t);
const cols=[['#1a9a4a',6.68,'fd'],['#f39020',6.6,'fc'],['#e0208a',6.58,'fc'],['#21a8e0',6.57,'fc'],['#1f2a8c',6.6,'fc'],['#e8202a',6.6,'td'],['#e8202a',6.58,'fc'],['#e8202a',6.56,'tu']];
let qa=series(ta,[[0.03,9.65],[0.04,9.15],[0.06,8.5],[0.08,8.2],[0.1,8.1],[0.2,8.05],[0.9,8.05]],X4,YQ4);
let qb=series(ta,[[0.03,9.25],[0.035,8.8],[0.06,8.1],[0.1,7.85],[0.15,7.72],[0.9,7.73]],X4,YQ4);
line(g,qa,'#333');qa.forEach(p=>mk(g,'x',p[0],p[1],2.3,'#333'));
line(g,qb,'#333');qb.forEach(p=>mk(g,'oc',p[0],p[1],2.6,'#555'));
cols.forEach(c=>{let s=series(t4,[[0.03,7.85],[0.04,7.4],[0.06,6.9],[0.08,c[1]+0.1],[0.12,c[1]],[0.9,c[1]]],X4,YQ4);line(g,s,c[0]);s.forEach(p=>mk(g,c[2],p[0],p[1],2.8,c[0]));});
const per=[['#e8202a',4.25,6.6,'tu'],['#e8202a',4.05,6.35,'fc'],['#e8202a',3.7,6.1,'td'],['#1f2a8c',3.0,5.3,'fc'],['#21a8e0',2.5,5.0,'fc'],['#e0208a',2.0,4.35,'fc'],['#f39020',1.5,3.95,'fc'],['#1a9a4a',1.0,3.25,'fd'],['#666',0.5,2.25,'oc'],['#444',0.0,1.6,'x']];
per.forEach(c=>{let s=t4.map(t=>{const f=Math.pow(Math.max(t-0.03,0)/0.87,0.8);return [X4(t),YP4(c[1]+(c[2]-c[1])*f)];});
 el(g,'polyline',{points:s.map(p=>p[0].toFixed(1)+','+p[1].toFixed(1)).join(' '),fill:'none',stroke:c[0],'stroke-width':0.8,'stroke-dasharray':'4 2'});
 s.forEach(p=>mk(g,c[3],p[0],p[1],c[3]=='x'?2.2:2.8,c[0]));});
})();
</script>
</body></html>
